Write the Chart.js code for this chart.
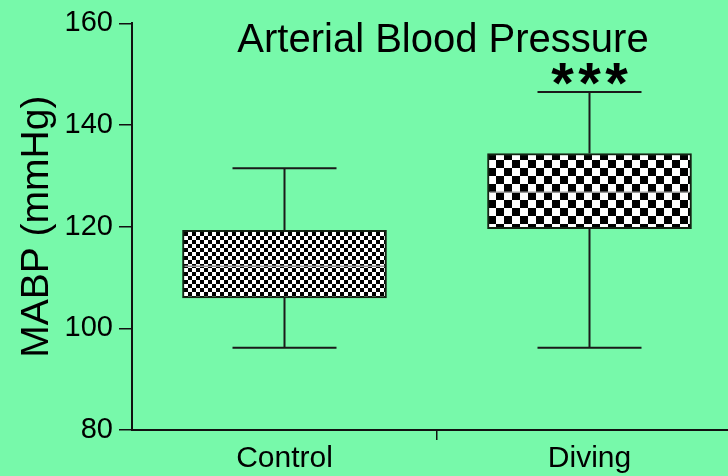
<!DOCTYPE html>
<html>
<head>
<meta charset="utf-8">
<script src="https://cdn.jsdelivr.net/npm/chart.js@4/dist/chart.umd.min.js"></script>
<style>
  html, body { margin: 0; padding: 0; background: #77F9AA; overflow: hidden; }
  #wrap { width: 728px; height: 476px; overflow: hidden; }
  canvas { display: block; }
</style>
</head>
<body>
<div id="wrap"><canvas id="c" width="742" height="476"></canvas></div>
<script>
// ---- data ----
const categories = ['Control', 'Diving'];
const whiskerLow = [96.2, 96.2];
const q1 = [106.0, 119.6];
const median = [112.2, 126.8];
const q3 = [119.3, 134.4];
const whiskerHigh = [131.5, 146.5];
const significance = ['', '***'];
const yTicks = [80, 100, 120, 140, 160];
const chartTitle = 'Arterial Blood Pressure';
const yTitle = 'MABP (mmHg)';

const BG = '#77F9AA';
const INK = '#111';
const FONT = '"Liberation Sans", Arial, sans-serif';

function checker(cell) {
  const c = document.createElement('canvas');
  c.width = cell * 2; c.height = cell * 2;
  const g = c.getContext('2d');
  g.fillStyle = '#fff'; g.fillRect(0, 0, cell * 2, cell * 2);
  g.fillStyle = '#000';
  g.fillRect(0, 0, cell, cell);
  g.fillRect(cell, cell, cell, cell);
  return document.getElementById('c').getContext('2d').createPattern(c, 'repeat');
}
const patterns = [checker(4), checker(8)];

const boxPlugin = {
  id: 'boxExtras',
  beforeDraw(chart) {
    const ctx = chart.ctx;
    ctx.save();
    ctx.fillStyle = BG;
    ctx.fillRect(0, 0, chart.width, chart.height);
    ctx.restore();
  },
  afterDatasetsDraw(chart) {
    const ctx = chart.ctx, xs = chart.scales.x, ys = chart.scales.y;
    const capHalf = 52;
    const meta = chart.getDatasetMeta(0);
    ctx.save();
    categories.forEach((c, i) => {
      const x = xs.getPixelForValue(i);
      const bar = meta.data[i];
      const half = bar.width / 2;
      // median
      ctx.strokeStyle = '#9a9a9a';
      ctx.lineWidth = 1.5;
      const ym = ys.getPixelForValue(median[i]);
      ctx.beginPath(); ctx.moveTo(x - half + 2, ym); ctx.lineTo(x + half - 2, ym); ctx.stroke();
      // whiskers
      ctx.strokeStyle = '#1a1a1a';
      ctx.lineWidth = 2;
      const yh = ys.getPixelForValue(whiskerHigh[i]);
      const yl = ys.getPixelForValue(whiskerLow[i]);
      const y3 = ys.getPixelForValue(q3[i]);
      const y1 = ys.getPixelForValue(q1[i]);
      ctx.beginPath();
      ctx.moveTo(x, y3); ctx.lineTo(x, yh);
      ctx.moveTo(x - capHalf, yh); ctx.lineTo(x + capHalf, yh);
      ctx.moveTo(x, y1); ctx.lineTo(x, yl);
      ctx.moveTo(x - capHalf, yl); ctx.lineTo(x + capHalf, yl);
      ctx.stroke();
      // significance
      if (significance[i]) {
        ctx.fillStyle = '#000';
        ctx.font = 'bold 58px ' + FONT;
        ctx.textAlign = 'center';
        ctx.textBaseline = 'alphabetic';
        const chars = significance[i].split('');
        const step = 27;
        chars.forEach((ch, k) => {
          ctx.fillText(ch, x + (k - (chars.length - 1) / 2) * step, yh + 11);
        });
      }
    });
    // chart title
    ctx.fillStyle = '#000';
    ctx.font = '40px ' + FONT;
    ctx.textAlign = 'center';
    ctx.textBaseline = 'alphabetic';
    ctx.fillText(chartTitle, 443, 52);
    ctx.restore();
  }
};

new Chart(document.getElementById('c'), {
  type: 'bar',
  data: {
    labels: categories,
    datasets: [{
      data: categories.map((c, i) => [q1[i], q3[i]]),
      backgroundColor: patterns,
      borderColor: '#142414',
      borderWidth: 2,
      borderSkipped: false,
      barThickness: 204
    }]
  },
  options: {
    responsive: false,
    animation: false,
    devicePixelRatio: 1,
    layout: { padding: { left: 0, right: 0, top: 20, bottom: 0 } },
    plugins: { legend: { display: false }, tooltip: { enabled: false }, title: { display: false } },
    scales: {
      x: {
        type: 'category',
        offset: true,
        grid: {
          offset: true,
          drawOnChartArea: false,
          drawTicks: true,
          tickLength: 10,
          lineWidth: 1.5,
          color: ctx => (ctx.index === 0 || ctx.index >= categories.length) ? 'rgba(0,0,0,0)' : INK
        },
        border: { display: true, color: INK, width: 2 },
        ticks: {
          color: '#000',
          padding: 1,
          font: { family: FONT, size: 30 }
        },
        afterFit(scale) { scale.height = 46; }
      },
      y: {
        min: 80, max: 160,
        afterBuildTicks(scale) { scale.ticks = yTicks.map(v => ({ value: v })); },
        grid: {
          drawOnChartArea: false,
          drawTicks: true,
          tickLength: 13,
          lineWidth: 1.5,
          color: INK
        },
        border: { display: true, color: INK, width: 2 },
        ticks: {
          color: '#000',
          padding: 6,
          font: { family: FONT, size: 29 }
        },
        title: {
          display: true,
          text: yTitle,
          color: '#000',
          padding: { top: 14, bottom: 0 },
          font: { family: FONT, size: 39, lineHeight: 1.2 }
        },
        afterFit(scale) { scale.width = 132; }
      }
    }
  },
  plugins: [boxPlugin]
});
</script>
</body>
</html>
